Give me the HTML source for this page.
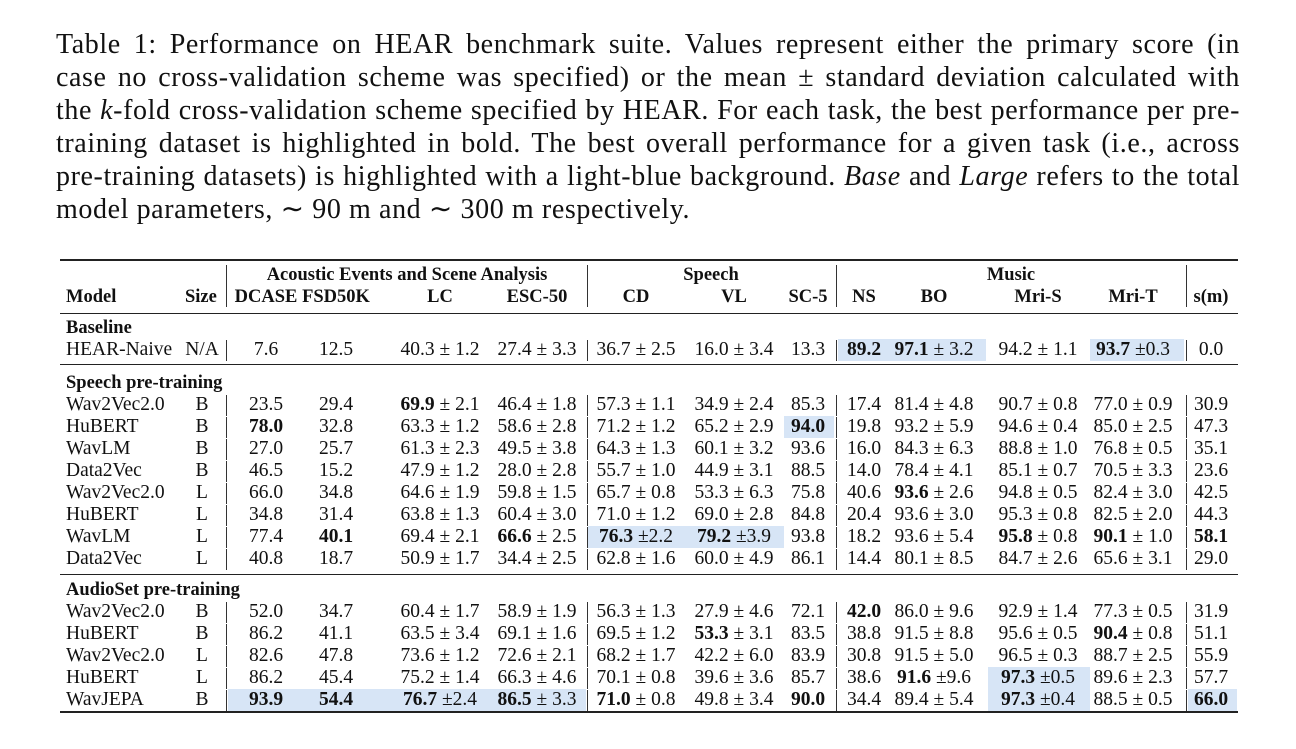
<!DOCTYPE html>
<html><head><meta charset="utf-8">
<style>
body{margin:0;background:#fff;width:1296px;height:749px;overflow:hidden;position:relative;font-family:"Liberation Serif",serif;color:#111}
#cap{position:absolute;left:56px;top:28px;width:1184px;font-size:28px;letter-spacing:0.6px;line-height:33px}
#cap div{text-align:justify;text-align-last:justify;white-space:nowrap;height:33px}
#cap div.last{text-align-last:left}
.t{position:absolute;font-size:19.5px;white-space:nowrap;line-height:22px}
.h{font-size:18.5px}
.b{font-weight:bold}
.hl{position:absolute;background:#d7e5f6}
.hr{position:absolute;background:#222;left:60px;width:1178px}
.vl{position:absolute;width:1px;background:#333}
</style></head><body>
<div id="cap">
<div style="white-space:normal">Table 1: Performance on HEAR benchmark suite. Values represent either the primary score (in</div>
<div style="white-space:normal">case no cross-validation scheme was specified) or the mean ± standard deviation calculated with</div>
<div style="white-space:normal">the <i>k</i>-fold cross-validation scheme specified by HEAR. For each task, the best performance per pre-</div>
<div style="white-space:normal">training dataset is highlighted in bold. The best overall performance for a given task (i.e., across</div>
<div style="white-space:normal">pre-training datasets) is highlighted with a light-blue background. <i>Base</i> and <i>Large</i> refers to the total</div>
<div class="last">model parameters, ∼ 90 m and ∼ 300 m respectively.</div>
</div>
<div id="tbl"></div>
<script>
const colNames=["DCASE","FSD50K","LC","ESC-50","CD","VL","SC-5","NS","BO","Mri-S","Mri-T","s(m)"];
const colX=[266,336,440,537,636,734,808,864,934,1038,1133,1211];
const sections=[
 {title:"Baseline",y:328,rows:[
  ["HEAR-Naive","N/A","7.6","12.5","40.3 ± 1.2","27.4 ± 3.3","36.7 ± 2.5","16.0 ± 3.4","13.3","**89.2**","**97.1** ± 3.2","94.2 ± 1.1","**93.7** ±0.3","0.0"]]},
 {title:"Speech pre-training",y:383,rows:[
  ["Wav2Vec2.0","B","23.5","29.4","**69.9** ± 2.1","46.4 ± 1.8","57.3 ± 1.1","34.9 ± 2.4","85.3","17.4","81.4 ± 4.8","90.7 ± 0.8","77.0 ± 0.9","30.9"],
  ["HuBERT","B","**78.0**","32.8","63.3 ± 1.2","58.6 ± 2.8","71.2 ± 1.2","65.2 ± 2.9","**94.0**","19.8","93.2 ± 5.9","94.6 ± 0.4","85.0 ± 2.5","47.3"],
  ["WavLM","B","27.0","25.7","61.3 ± 2.3","49.5 ± 3.8","64.3 ± 1.3","60.1 ± 3.2","93.6","16.0","84.3 ± 6.3","88.8 ± 1.0","76.8 ± 0.5","35.1"],
  ["Data2Vec","B","46.5","15.2","47.9 ± 1.2","28.0 ± 2.8","55.7 ± 1.0","44.9 ± 3.1","88.5","14.0","78.4 ± 4.1","85.1 ± 0.7","70.5 ± 3.3","23.6"],
  ["Wav2Vec2.0","L","66.0","34.8","64.6 ± 1.9","59.8 ± 1.5","65.7 ± 0.8","53.3 ± 6.3","75.8","40.6","**93.6** ± 2.6","94.8 ± 0.5","82.4 ± 3.0","42.5"],
  ["HuBERT","L","34.8","31.4","63.8 ± 1.3","60.4 ± 3.0","71.0 ± 1.2","69.0 ± 2.8","84.8","20.4","93.6 ± 3.0","95.3 ± 0.8","82.5 ± 2.0","44.3"],
  ["WavLM","L","77.4","**40.1**","69.4 ± 2.1","**66.6** ± 2.5","**76.3** ±2.2","**79.2** ±3.9","93.8","18.2","93.6 ± 5.4","**95.8** ± 0.8","**90.1** ± 1.0","**58.1**"],
  ["Data2Vec","L","40.8","18.7","50.9 ± 1.7","34.4 ± 2.5","62.8 ± 1.6","60.0 ± 4.9","86.1","14.4","80.1 ± 8.5","84.7 ± 2.6","65.6 ± 3.1","29.0"]]},
 {title:"AudioSet pre-training",y:590,rows:[
  ["Wav2Vec2.0","B","52.0","34.7","60.4 ± 1.7","58.9 ± 1.9","56.3 ± 1.3","27.9 ± 4.6","72.1","**42.0**","86.0 ± 9.6","92.9 ± 1.4","77.3 ± 0.5","31.9"],
  ["HuBERT","B","86.2","41.1","63.5 ± 3.4","69.1 ± 1.6","69.5 ± 1.2","**53.3** ± 3.1","83.5","38.8","91.5 ± 8.8","95.6 ± 0.5","**90.4** ± 0.8","51.1"],
  ["Wav2Vec2.0","L","82.6","47.8","73.6 ± 1.2","72.6 ± 2.1","68.2 ± 1.7","42.2 ± 6.0","83.9","30.8","91.5 ± 5.0","96.5 ± 0.3","88.7 ± 2.5","55.9"],
  ["HuBERT","L","86.2","45.4","75.2 ± 1.4","66.3 ± 4.6","70.1 ± 0.8","39.6 ± 3.6","85.7","38.6","**91.6** ±9.6","**97.3** ±0.5","89.6 ± 2.3","57.7"],
  ["WavJEPA","B","**93.9**","**54.4**","**76.7** ±2.4","**86.5** ± 3.3","**71.0** ± 0.8","49.8 ± 3.4","**90.0**","34.4","89.4 ± 5.4","**97.3** ±0.4","88.5 ± 0.5","**66.0**"]]}
];
// highlighted cells: [section, row, column index]
const highlights=[[0,0,7],[0,0,8],[0,0,10],[1,1,6],[1,6,4],[1,6,5],[2,3,9],[2,4,0],[2,4,1],[2,4,2],[2,4,3],[2,4,9],[2,4,11]];
const cellL=[228,300,380,488,588,686,784,838,890,988,1090,1188];
const cellR=[300,380,488,586,686,784,834,890,986,1090,1184,1237];
const vLines=[226,587,836,1186];
const T=document.getElementById('tbl');
function add(cls,css,html,name){const d=document.createElement('div');d.className=cls;d.style.cssText=css;if(html!=null)d.innerHTML=html;


T.appendChild(d);return d;}
function fmt(s){return s.replace(/\*\*(.+?)\*\*/g,'<span class="b">$1</span>');}
add('hr','top:259px;height:2px','', 'top-rule');
add('hr','top:313px;height:1px','', 'header-rule');
add('hr','top:364px;height:1px','', 'section-rule');
add('hr','top:574px;height:1px','', 'section-rule');
add('hr','top:711px;height:2px','', 'bottom-rule');
add('t b h','left:407px;top:264px;transform:translateX(-50%)','Acoustic Events and Scene Analysis','group-header-acoustic');
add('t b h','left:711px;top:264px;transform:translateX(-50%)','Speech','group-header-speech');
add('t b h','left:1011px;top:264px;transform:translateX(-50%)','Music','group-header-music');
add('t b h','left:66px;top:286px','Model','model-header');
add('t b h','left:185px;top:286px','Size','size-header');
colNames.forEach((c,i)=>{add('t b h','left:'+colX[i]+'px;top:286px;transform:translateX(-50%)',c,'column-header');});
vLines.forEach(x=>add('vl','left:'+x+'px;top:265px;height:42px','','header-divider'));
highlights.forEach(h=>{const s=sections[h[0]];const y=s.y+22+h[1]*22-11;const c=h[2];
add('hl','left:'+cellL[c]+'px;top:'+y+'px;width:'+(cellR[c]-cellL[c])+'px;height:22px','','highlight-cell');});
sections.forEach((s,si)=>{
 add('t b h','left:66px;top:'+(s.y-11)+'px',s.title,'section-title');
 s.rows.forEach((r,ri)=>{const y=s.y+22+ri*22-11;
  add('t','left:66px;top:'+y+'px',r[0],'model-name');
  add('t','left:202px;top:'+y+'px;transform:translateX(-50%)',r[1],'model-size');
  for(let i=0;i<12;i++)add('t','left:'+colX[i]+'px;top:'+y+'px;transform:translateX(-50%)',fmt(r[i+2]),'cell-'+colNames[i].toLowerCase());
  vLines.forEach(x=>add('vl','left:'+x+'px;top:'+(y+1)+'px;height:21px','','row-divider'));
 });
});
</script>
</body></html>
